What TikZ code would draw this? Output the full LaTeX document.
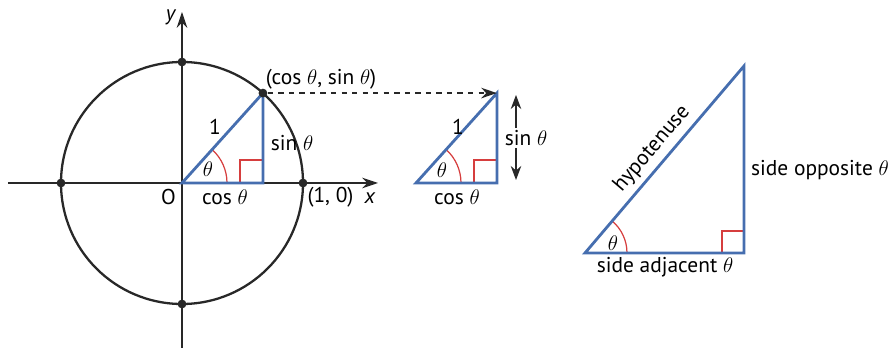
\documentclass[tikz,border=0pt]{standalone}
\usepackage{fontspec}
\setmainfont{PT Sans}
\usetikzlibrary{arrows.meta,calc,positioning}
\definecolor{sideblue}{RGB}{70,110,175}
\definecolor{markred}{RGB}{214,62,62}
\definecolor{axisgray}{RGB}{40,40,40}

\begin{document}
\begin{tikzpicture}[font=\fontsize{12.2}{14}\selectfont,
  side/.style={draw=sideblue,line width=1.6pt,line join=miter},
  marker/.style={draw=markred,line width=0.7pt},
  axis/.style={draw=axisgray,line width=0.6pt,-{Stealth[length=9pt,width=6pt]}},
  dot/.style={circle,fill=axisgray,inner sep=0pt,minimum size=5pt},
  lbl/.style={inner sep=1pt}]
\useasboundingbox (-3.64,-3.30) rectangle (14.22,3.66);

%--- cerchio unitario ---
\coordinate (O) at (0,0);
\coordinate (xs) at (-3.48,0);
\coordinate (xe) at (3.92,0);
\coordinate (ys) at (0,-3.30);
\coordinate (ye) at (0,3.42);
\draw[axis] (xs) -- (xe);
\draw[axis] (ys) -- (ye);
\draw[axisgray,line width=1.3pt] (O) circle (2.42);
\coordinate (P) at (48:2.42);
\coordinate (F) at (P |- O);
% triangolo nel cerchio
\draw[marker] (0.9,0) arc (0:48:0.9);
\draw[marker] ($(F)+(-0.46,0)$) |- ($(F)+(0,0.46)$);
\draw[side] (O) -- (P) -- (F) -- cycle;
% punti sul cerchio
\foreach \a/\n in {0/E,90/N,180/W,270/S}{
  \node[dot] (\n) at (\a:2.42) {};
}
\node[dot] (Pd) at (P) {};
% etichette
\node[lbl] (ylab) at (-0.22,3.32) {\textit{y}};
\node[lbl] (xlab) at (3.76,-0.30) {\textit{x}};
\node[lbl] (Olab) at (-0.27,-0.28) {O};
\node[lbl] (coslab) at (0.86,-0.28) {cos $\theta$};
\node[lbl] (unolab) at (2.97,-0.28) {(1, 0)};
\node[lbl] (hyplab) at (0.66,1.12) {1};
\node[lbl] (thlab) at (0.52,0.27) {$\theta$};
\node[lbl] (sinlab) at (2.20,0.80) {sin $\theta$};
\node[lbl] (Plab) at (2.78,2.08) {(cos $\theta$, sin $\theta$)};

%--- triangolo piccolo ---
\begin{scope}[xshift=4.68cm]
\coordinate (O2) at (0,0);
\coordinate (Q) at (48:2.42);
\coordinate (F2) at (Q |- O2);
\draw[marker] (0.9,0) arc (0:48:0.9);
\draw[marker] ($(F2)+(-0.46,0)$) |- ($(F2)+(0,0.46)$);
\draw[side] (O2) -- (Q) -- (F2) -- cycle;
\node[lbl] (uno2) at (0.84,1.12) {1};
\node[lbl] (th2) at (0.52,0.25) {$\theta$};
\node[lbl] (cos2) at (0.82,-0.28) {cos $\theta$};
\node[lbl] (sin2) at (2.20,0.90) {sin $\theta$};
\coordinate (su) at (2.00,1.76);
\coordinate (sd) at (2.00,0.06);
\end{scope}
% freccia tratteggiata
\draw[axisgray,line width=0.8pt,dashed,-{Stealth[length=9pt,width=6pt]}] (Pd) -- (Q);
\draw[axisgray,line width=0.7pt,-{Stealth[length=8pt,width=6pt]}] (sin2.north -| su) -- (su);
\draw[axisgray,line width=0.7pt,-{Stealth[length=8pt,width=6pt]}] (sin2.south -| sd) -- (sd);

%--- triangolo grande ---
\coordinate (A) at (8.06,-1.40);
\coordinate (B) at (11.24,-1.40);
\coordinate (C) at (11.24,2.34);
\draw[marker] ($(A)+(0.84,0)$) arc (0:49.6:0.84);
\draw[marker] ($(B)+(-0.44,0)$) |- ($(B)+(0,0.44)$);
\draw[side] (A) -- (C) node[midway,above,sloped,lbl,yshift=2pt] (hyp) {hypotenuse} -- (B) -- cycle;
\node[lbl] (th3) at (8.62,-1.20) {$\theta$};
\coordinate (Bm) at (11.24,0.26);
\node[lbl,right=0.1cm of Bm] (opp) {side opposite $\theta$};
\node[lbl] (adj) at (9.66,-1.68) {side adjacent $\theta$};
\end{tikzpicture}
\end{document}
